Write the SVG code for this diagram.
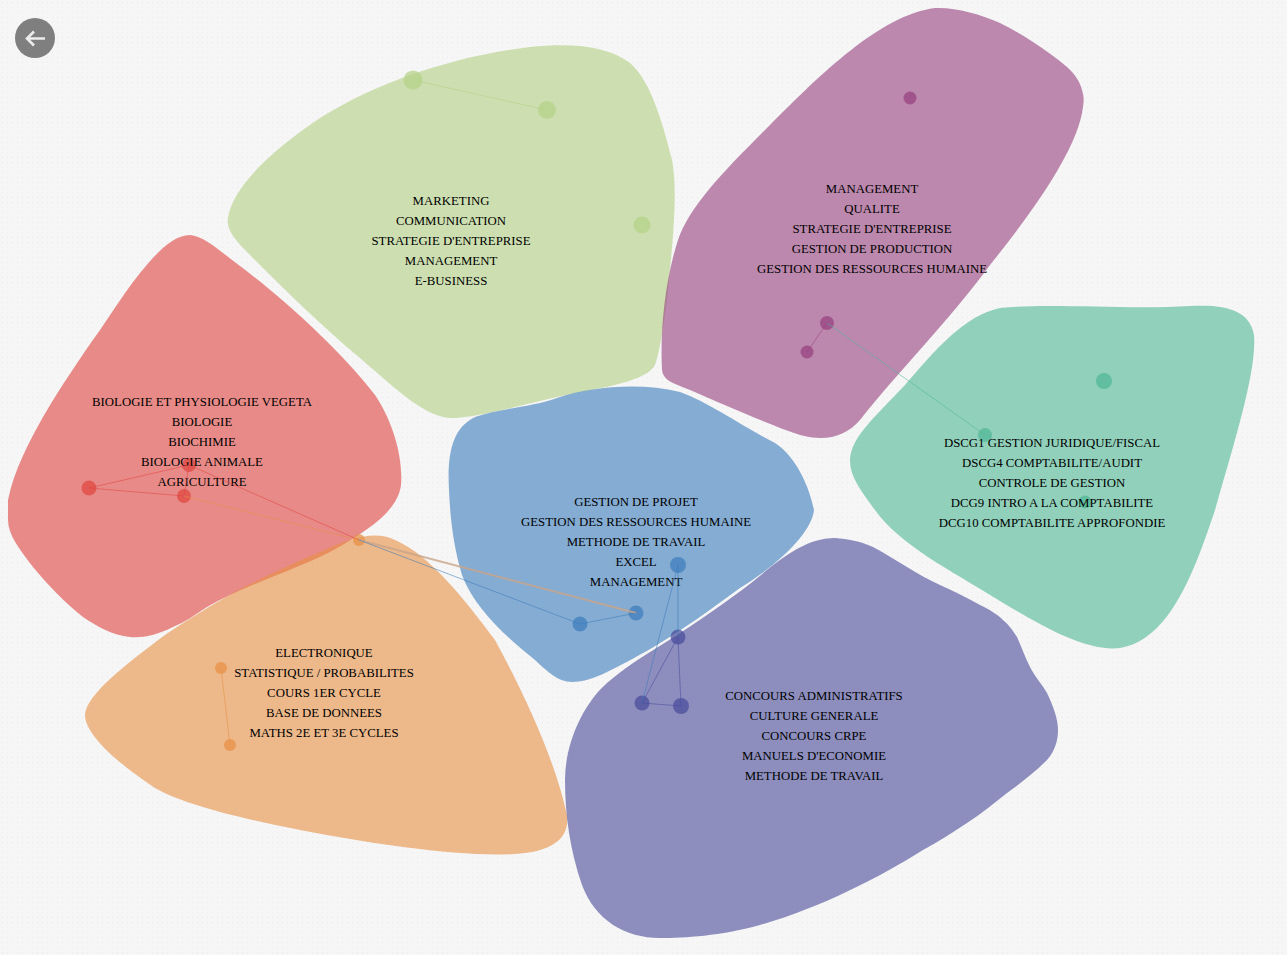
<svg xmlns="http://www.w3.org/2000/svg" width="1287" height="955" viewBox="0 0 1287 955">
<style>
.t{font-family:"Liberation Serif","Times New Roman",serif;font-size:12.8px;fill:#000;text-anchor:middle}
.b{fill-opacity:.6;stroke:none}
.d{fill-opacity:.7}
.c line{stroke-width:1;stroke-opacity:.55;fill:none}
.red{fill:#e0443f}.grn{fill:#b3d184}.pur{fill:#963f7d}.tea{fill:#4fb795}.blu{fill:#3b7cbc}.ora{fill:#e78f42}.ind{fill:#474a9a}
</style>
<defs>
<pattern id="dots" width="5" height="5" patternUnits="userSpaceOnUse"><rect width="5" height="5" fill="#f6f6f6"/><rect x="2" y="2" width="1" height="1" fill="#ebebeb"/></pattern>
</defs>
<rect width="1287" height="955" fill="url(#dots)"/>

<g id="cluster-red">
<path class="b red" d="M8 500C14 470 30 440 43 417C60 388 80 358 100 330C115 308 125 292 140 273C155 255 172 235 190 235C205 236 222 253 240 266C285 300 340 350 375 395C395 425 403 460 401 485C398 510 370 530 330 552C290 572 245 585 207 607C195 615 185 622 173 627C155 636 142 638 130 637C112 635 98 627 83 617C65 603 48 585 33 567C20 550 8 535 8 520Z"/>
<circle class="d red" cx="89" cy="488" r="7.500"/><circle class="d red" cx="189" cy="465" r="7"/><circle class="d red" cx="184" cy="496" r="7"/>
<text class="t" x="202" y="406">BIOLOGIE ET PHYSIOLOGIE VEGETA</text>
<text class="t" x="202" y="426">BIOLOGIE</text>
<text class="t" x="202" y="446">BIOCHIMIE</text>
<text class="t" x="202" y="466">BIOLOGIE ANIMALE</text>
<text class="t" x="202" y="486">AGRICULTURE</text>
</g>

<g id="cluster-green">
<path class="b grn" d="M228 218C232 190 265 155 320 118C380 80 460 55 530 47C575 42 610 47 630 63C650 80 662 120 672 160C678 190 673 240 668 290C664 325 660 350 655 365C648 378 620 385 580 392C530 402 480 418 450 418C425 416 400 393 360 358C320 325 280 285 250 255C235 240 226 230 228 218Z"/>
<circle class="d grn" cx="413" cy="80" r="9.500"/><circle class="d grn" cx="547" cy="110" r="9"/><circle class="d grn" cx="642" cy="225" r="8.500"/>
<text class="t" x="451" y="205">MARKETING</text>
<text class="t" x="451" y="225">COMMUNICATION</text>
<text class="t" x="451" y="245">STRATEGIE D'ENTREPRISE</text>
<text class="t" x="451" y="265">MANAGEMENT</text>
<text class="t" x="451" y="285">E-BUSINESS</text>
</g>

<g id="cluster-purple">
<path class="b pur" d="M662 370C660 330 665 280 678 240C690 205 725 170 770 125C820 75 880 15 935 8C955 7 980 14 1000 23C1012 29 1022 35 1033 42C1045 50 1057 58 1067 67C1075 74 1080 82 1082 90C1084 96 1084 102 1083 107C1078 150 1030 215 990 265C950 320 895 375 860 420C845 437 825 442 800 435C770 425 725 405 690 390C672 383 663 380 662 370Z"/>
<circle class="d pur" cx="910" cy="98" r="6.500"/><circle class="d pur" cx="827" cy="323" r="7"/><circle class="d pur" cx="807" cy="352" r="6.500"/>
<text class="t" x="872" y="193">MANAGEMENT</text>
<text class="t" x="872" y="213">QUALITE</text>
<text class="t" x="872" y="233">STRATEGIE D'ENTREPRISE</text>
<text class="t" x="872" y="253">GESTION DE PRODUCTION</text>
<text class="t" x="872" y="273">GESTION DES RESSOURCES HUMAINE</text>
</g>

<g id="cluster-teal">
<path class="b tea" d="M850 460C851 437 875 417 905 385C935 350 965 315 1000 308C1050 303 1130 310 1190 306C1225 304 1250 310 1254 335C1257 370 1235 440 1215 510C1195 570 1170 640 1120 648C1085 652 1040 625 995 598C950 570 900 545 875 510C858 487 850 475 850 460Z"/>
<circle class="d tea" cx="1104" cy="381" r="8"/><circle class="d tea" cx="985" cy="435" r="7"/><circle class="d tea" cx="1085" cy="502" r="6.500"/>
<text class="t" x="1052" y="447">DSCG1 GESTION JURIDIQUE/FISCAL</text>
<text class="t" x="1052" y="467">DSCG4 COMPTABILITE/AUDIT</text>
<text class="t" x="1052" y="487">CONTROLE DE GESTION</text>
<text class="t" x="1052" y="507">DCG9 INTRO A LA COMPTABILITE</text>
<text class="t" x="1052" y="527">DCG10 COMPTABILITE APPROFONDIE</text>
</g>

<g id="cluster-blue">
<path class="b blu" d="M449 490C447 455 452 428 475 417C500 408 530 408 560 397C590 387 640 382 680 392C710 403 740 425 775 443C798 458 810 490 814 510C812 530 785 560 740 588C710 610 685 628 657 645C640 655 625 663 607 672C595 678 583 682 572 682C558 682 548 672 535 660C510 640 475 610 462 575C453 545 450 515 449 490Z"/>
<circle class="d blu" cx="678" cy="565" r="8"/><circle class="d blu" cx="580" cy="624" r="7.500"/><circle class="d blu" cx="636" cy="613" r="7.500"/>
<text class="t" x="636" y="506">GESTION DE PROJET</text>
<text class="t" x="636" y="526">GESTION DES RESSOURCES HUMAINE</text>
<text class="t" x="636" y="546">METHODE DE TRAVAIL</text>
<text class="t" x="636" y="566">EXCEL</text>
<text class="t" x="636" y="586">MANAGEMENT</text>
</g>

<g id="cluster-orange">
<path class="b ora" d="M85 715C86 695 125 665 165 635C190 618 212 605 233 593C262 578 295 562 320 552C350 538 375 530 395 540C430 555 465 600 495 640C525 695 555 760 567 815C570 840 550 852 515 854C460 857 380 845 300 830C240 818 185 805 155 788C120 765 85 735 85 715Z"/>
<circle class="d ora" cx="359" cy="540" r="6"/><circle class="d ora" cx="221" cy="668" r="6"/><circle class="d ora" cx="230" cy="745" r="6"/>
<text class="t" x="324" y="657">ELECTRONIQUE</text>
<text class="t" x="324" y="677">STATISTIQUE / PROBABILITES</text>
<text class="t" x="324" y="697">COURS 1ER CYCLE</text>
<text class="t" x="324" y="717">BASE DE DONNEES</text>
<text class="t" x="324" y="737">MATHS 2E ET 3E CYCLES</text>
</g>

<g id="cluster-indigo">
<path class="b ind" d="M565 780C565 745 582 705 607 683C622 670 640 658 658 647C690 627 715 610 742 590C772 567 800 538 835 538C848 539 860 541 873 547C885 553 895 560 907 567C918 574 929 580 940 585C955 592 968 598 980 605C990 610 997 614 1003 620C1010 626 1013 631 1017 637C1022 648 1025 657 1030 667C1035 677 1042 684 1047 693C1053 706 1058 718 1058 730C1058 742 1054 752 1047 760C1035 772 1021 783 1007 793C994 803 981 814 967 823C952 833 938 842 923 850C880 877 820 908 760 925C720 936 685 938 660 938C625 938 595 920 582 885C570 850 565 815 565 780Z"/>
<circle class="d ind" cx="678" cy="637" r="7.500"/><circle class="d ind" cx="642" cy="703" r="7.500"/><circle class="d ind" cx="681" cy="706" r="8"/>
<text class="t" x="814" y="700">CONCOURS ADMINISTRATIFS</text>
<text class="t" x="814" y="720">CULTURE GENERALE</text>
<text class="t" x="814" y="740">CONCOURS CRPE</text>
<text class="t" x="814" y="760">MANUELS D'ECONOMIE</text>
<text class="t" x="814" y="780">METHODE DE TRAVAIL</text>
</g>

<g id="connectors" class="c">
<line x1="413" y1="80" x2="547" y2="110" stroke="#b3d184"/>
<line x1="827" y1="323" x2="807" y2="352" stroke="#963f7d"/>
<line x1="827" y1="323" x2="985" y2="435" stroke="#4fb795"/>
<line x1="89" y1="488" x2="189" y2="465" stroke="#e0443f"/>
<line x1="89" y1="488" x2="184" y2="496" stroke="#e0443f"/>
<line x1="189" y1="465" x2="184" y2="496" stroke="#e0443f"/>
<line x1="189" y1="465" x2="359" y2="540" stroke="#e0443f"/>
<line x1="184" y1="496" x2="359" y2="540" stroke="#e78f42"/>
<line x1="359" y1="540" x2="636" y2="613" stroke="#c9a58a" style="stroke-width:2;stroke-opacity:.8"/>
<line x1="359" y1="540" x2="580" y2="624" stroke="#3b7cbc"/>
<line x1="580" y1="624" x2="636" y2="613" stroke="#3b7cbc"/>
<line x1="221" y1="668" x2="230" y2="745" stroke="#e78f42"/>
<line x1="678" y1="565" x2="678" y2="637" stroke="#3b7cbc"/>
<line x1="678" y1="565" x2="642" y2="703" stroke="#3b7cbc"/>
<line x1="678" y1="637" x2="642" y2="703" stroke="#474a9a"/>
<line x1="678" y1="637" x2="681" y2="706" stroke="#474a9a"/>
<line x1="642" y1="703" x2="681" y2="706" stroke="#474a9a"/>
</g>

<g id="back">
<circle cx="35" cy="38" r="20" fill="#7f7f7f"/>
<path d="M45 38.500H27M34 31.500L27 38.500L34 45.500" fill="none" stroke="#ececec" stroke-width="2.600"/>
</g>
</svg>
